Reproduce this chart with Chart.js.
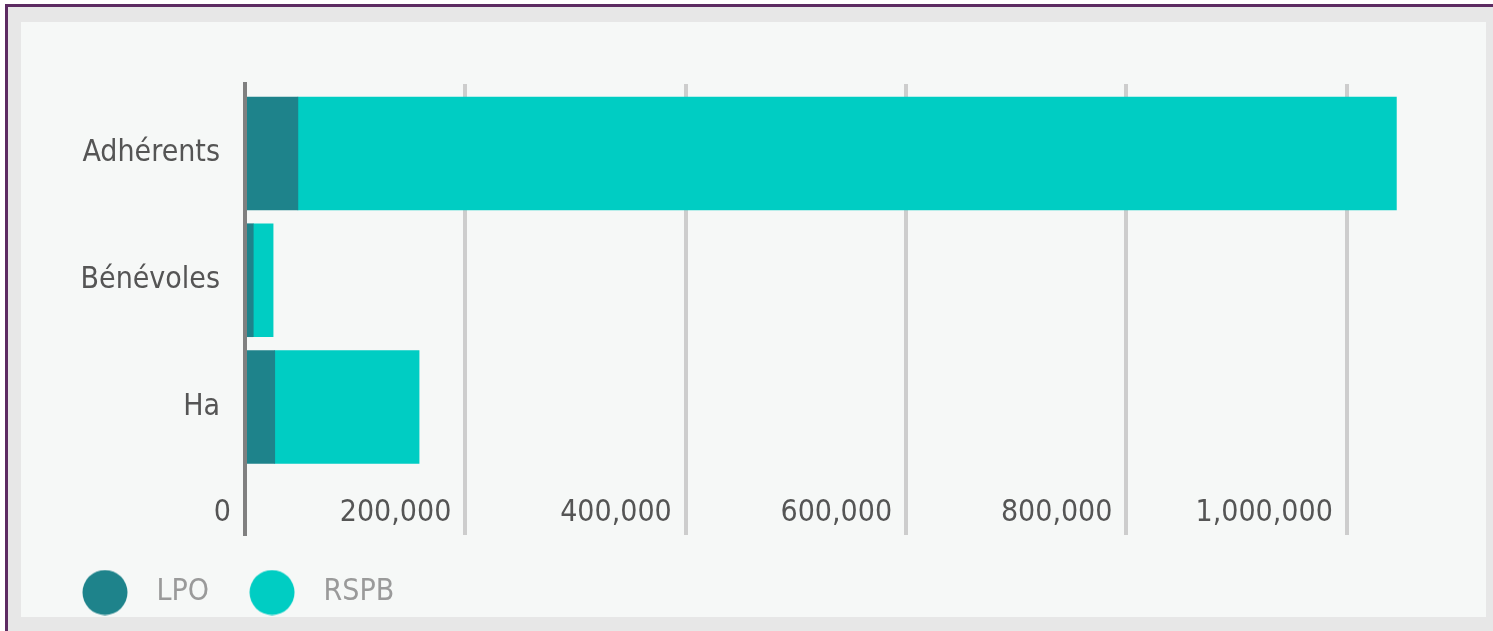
<!DOCTYPE html>
<html>
<head>
<meta charset="utf-8">
<script src="https://cdn.jsdelivr.net/npm/chart.js@4.4.1/dist/chart.umd.min.js"></script>
<style>
    html, body { margin: 0; padding: 0; background: #ffffff; }
    body { width: 1493px; height: 631px; overflow: hidden; position: relative; }
    #cadre { position: absolute; left: 5px; top: 4px; right: 0; bottom: 0; border-left: 3px solid #5d2b62; border-top: 3px solid #5d2b62; background: #e7e7e7; }
    #panneau { position: absolute; left: 21px; top: 22px; width: 1465px; height: 595px; background: #f6f8f7; }
    canvas { display: block; }
</style>
</head>
<body>
<div id="cadre"></div>
<div id="panneau"><canvas id="graphique" width="1465" height="595"></canvas></div>
<script>
    const categories = ['Adhérents', 'Bénévoles', 'Ha'];
    const valeursLPO = [48000, 7500, 27000];
    const valeursRSPB = [997000, 18000, 131000];
    const ticksX = [0, 200000, 400000, 600000, 800000, 1000000];
    const nomsSeries = ['LPO', 'RSPB'];
    const couleursSeries = ['#1e838b', '#00cdc3'];

    const police = '"Liberation Sans Narrow", "DejaVu Sans Condensed", "Open Sans", sans-serif';

    function versPoints(valeurs) {
        return valeurs.map((v, i) => ({ x: v, y: i }));
    }

    // pastille ronde pour la légende
    function pastille(couleur) {
        const c = document.createElement('canvas');
        c.width = 46;
        c.height = 46;
        const g = c.getContext('2d');
        g.fillStyle = couleur;
        g.beginPath();
        g.arc(23, 23, 22.5, 0, Math.PI * 2);
        g.fill();
        return c;
    }

    new Chart(document.getElementById('graphique'), {
        type: 'bar',
        data: {
            datasets: nomsSeries.map((nom, i) => ({
                label: nom,
                data: versPoints(i === 0 ? valeursLPO : valeursRSPB),
                backgroundColor: couleursSeries[i],
                pointStyle: pastille(couleursSeries[i]),
                barThickness: 113
            }))
        },
        options: {
            indexAxis: 'y',
            responsive: false,
            animation: false,
            layout: { padding: { left: 21, top: 62, right: 29, bottom: 0 } },
            scales: {
                x: {
                    type: 'linear',
                    stacked: true,
                    min: 0,
                    max: 1100000,
                    afterBuildTicks: s => { s.ticks = ticksX.map(v => ({ value: v })); },
                    afterFit: s => { s.height = 16; },
                    grid: { color: '#cdcdcd', lineWidth: 4, drawTicks: false },
                    border: { display: false },
                    ticks: {
                        mirror: true,
                        align: 'end',
                        labelOffset: -14,
                        padding: 4,
                        color: '#555555',
                        font: { family: police, size: 30 },
                        callback: v => v.toLocaleString('en-US')
                    }
                },
                y: {
                    type: 'linear',
                    stacked: true,
                    reverse: true,
                    offset: false,
                    min: -0.548,
                    max: 3.01,
                    afterBuildTicks: s => { s.ticks = categories.map((c, i) => ({ value: i })); },
                    afterFit: s => { s.width = 203; },
                    grid: { display: false, drawTicks: false },
                    border: { display: true, color: '#808080', width: 4, z: 1 },
                    ticks: {
                        padding: 25,
                        color: '#555555',
                        font: { family: police, size: 30 },
                        callback: v => categories[v]
                    }
                }
            },
            plugins: {
                tooltip: { enabled: false },
                legend: {
                    position: 'bottom',
                    align: 'start',
                    maxHeight: 66,
                    labels: {
                        usePointStyle: true,
                        pointStyleWidth: 73,
                        boxHeight: 31,
                        padding: 26.5,
                        color: '#9a9a9a',
                        font: { family: police, size: 30 }
                    }
                }
            }
        }
    });
</script>
</body>
</html>
